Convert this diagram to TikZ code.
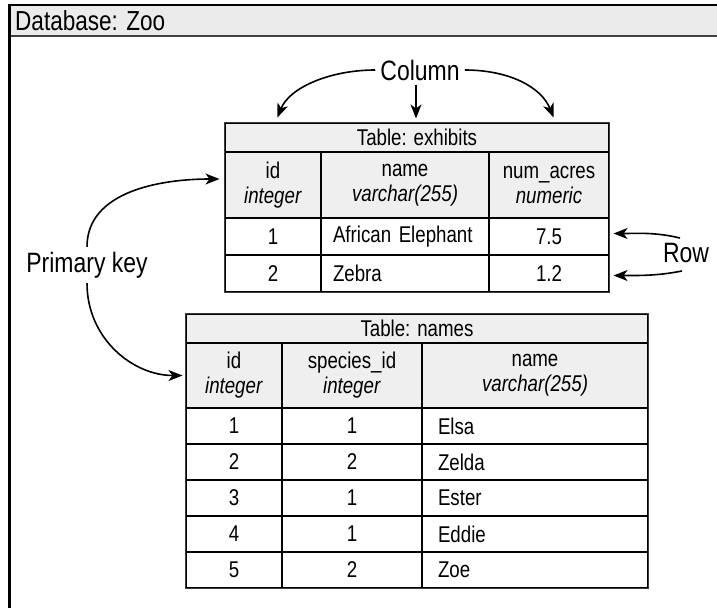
\documentclass[tikz,border=0pt]{standalone}
\usepackage{fontspec}
\setmainfont[FakeStretch=0.82]{Liberation Sans}
\usetikzlibrary{arrows.meta,calc}
\definecolor{hdrgray}{HTML}{EFEFEF}
\definecolor{bargray}{HTML}{EBEBEB}
\definecolor{edgegray}{HTML}{3C3C3C}
\newcommand{\zootab}{\fontsize{22.8}{25}\selectfont}
\newcommand{\zoolbl}{\fontsize{28}{30}\selectfont}
\newcommand{\zoottl}{\fontsize{27.5}{30}\selectfont}
\begin{document}
\begin{tikzpicture}[x=1pt,y=-1pt,
  cell/.style={draw=black, line width=1.1pt, inner sep=0pt, align=center, font=\zootab},
  hcell/.style={cell, fill=hdrgray},
  lcell/.style={cell, align=left},
  outline/.style={draw=edgegray, line width=1.7pt},
  lbl/.style={font=\zoolbl, inner sep=5pt},
  arr/.style={-{Stealth[length=14pt,width=11pt,inset=4pt]}, line width=1.6pt}
]
\useasboundingbox (0,0) rectangle (717,608);

% database frame
\fill[bargray] (8,4) rectangle (717,36);
\draw[line width=2pt] (8,5) -- (717,5);
\draw[line width=1.8pt, black!75] (8,36) -- (717,36);
\draw[line width=3pt] (9,4) -- (9,608);
\node[anchor=base west, font=\zoottl, inner sep=0pt] (dbtitle) at (15,30) {Database: Zoo};

% table exhibits
\node[hcell, minimum width=384pt, minimum height=29pt] (etitle) at (417,137.5) {Table: exhibits};
\node[hcell, minimum width=96pt, minimum height=66pt] (eid) at (273,185) {id\\\textit{integer}};
\node[hcell, minimum width=168pt, minimum height=66pt] (ename) at (405,185) {name\\\textit{varchar(255)}};
\node[hcell, minimum width=120pt, minimum height=66pt] (eacres) at (549,185) {num\_acres\\\textit{numeric}};
\node[cell, minimum width=96pt, minimum height=37pt] (e1id) at (273,236.5) {1};
\node[lcell, inner xsep=12pt, text width=144pt, minimum height=37pt] (e1nm) at (405,236.5) {African Elephant};
\node[cell, minimum width=120pt, minimum height=37pt] (e1ac) at (549,236.5) {7.5};
\node[cell, minimum width=96pt, minimum height=37pt] (e2id) at (273,273.5) {2};
\node[lcell, inner xsep=12pt, text width=144pt, minimum height=37pt] (e2nm) at (405,273.5) {Zebra};
\node[cell, minimum width=120pt, minimum height=37pt] (e2ac) at (549,273.5) {1.2};
\draw[outline] (etitle.north west) rectangle (e2ac.south east);

% table names
\node[hcell, minimum width=462pt, minimum height=29pt] (ntitle) at (417,328.5) {Table: names};
\node[hcell, minimum width=96pt, minimum height=65pt] (nid) at (234,375.5) {id\\\textit{integer}};
\node[hcell, minimum width=140pt, minimum height=65pt] (nsp) at (352,375.5) {species\_id\\\textit{integer}};
\node[hcell, minimum width=226pt, minimum height=65pt] (nnm) at (535,375.5) {name\\\textit{varchar(255)}};
\foreach \i/\s/\n in {1/1/Elsa,2/2/Zelda,3/1/Ester,4/1/Eddie,5/2/Zoe}{
  \node[cell, minimum width=96pt, minimum height=36pt] (nid\i) at (234,{390+36*\i}) {\i};
  \node[cell, minimum width=140pt, minimum height=36pt] (nsp\i) at (352,{390+36*\i}) {\s};
  \node[lcell, inner xsep=16pt, text width=194pt, minimum height=36pt] (nnm\i) at (535,{390+36*\i}) {\n};
}
\draw[outline] (ntitle.north west) rectangle (nnm5.south east);

% Column label
\node[lbl] (col) at (420,70) {Column};
\coordinate (cL) at ($(etitle.north west)+(53,-5)$);
\coordinate (cM) at ($(etitle.north)+(-1,-4)$);
\coordinate (cR) at ($(etitle.north east)+(-56,-5)$);
\draw[arr] (col.west) .. controls +(-45,0) and +(12,-30) .. (cL);
\draw[arr] (col.south -| cM) -- (cM);
\draw[arr] (col.east) .. controls +(45,0) and +(-12,-30) .. (cR);

% Primary key label
\node[lbl] (pk) at (87,265) {Primary key};
\coordinate (pkA) at ($(eid.west)+(-5,-6)$);
\coordinate (pkB) at ($(nid.west)+(-3,0)$);
\draw[arr] (pk.north) .. controls +(0,-55) and +(-60,0) .. (pkA);
\draw[arr] (pk.south) .. controls +(0,55) and +(-50,0) .. (pkB);

% Row label
\node[lbl] (row) at (686,253) {Row};
\coordinate (rA) at ($(e1ac.east)+(4,-3)$);
\coordinate (rB) at ($(e2ac.east)+(4,2)$);
\draw[arr] ($(row.north)+(-6,0)$) .. controls +(-25,-6) and +(25,0) .. (rA);
\draw[arr] ($(row.south)+(-4,3)$) .. controls +(-25,5) and +(25,0) .. (rB);
\end{tikzpicture}
\end{document}
